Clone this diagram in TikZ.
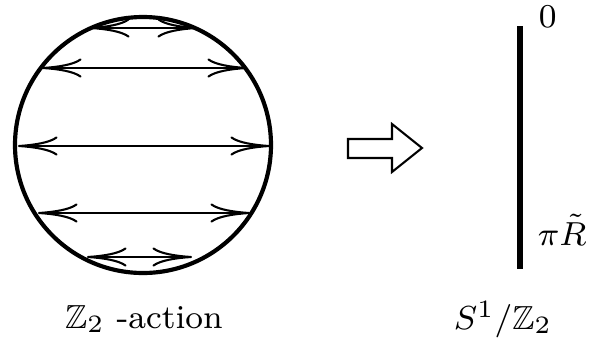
\documentclass[tikz,border=0pt]{standalone}
\usepackage{amsmath, amssymb}
\usetikzlibrary{arrows.meta}

\begin{document}
\begin{tikzpicture}[x=0.24pt, y=-0.24pt, font=\footnotesize,
    flip/.style={line width=0.5pt, {To[length=9.5pt,width=4.6pt]}-{To[length=9.5pt,width=4.6pt]}}]
    \useasboundingbox (0,0) rectangle (589,350);

    % --- The disk with its Z2 identifications ---
    \draw[line width=1pt] (143,145) circle (128);
    \draw[flip] (90,28) -- (197,28);
    \draw[flip] (42,68) -- (247,68);
    \draw[flip] (18,146) -- (270,146);
    \draw[flip] (38,213) -- (250,213);
    \draw[flip] (87,257) -- (192,257);
    \node[anchor=base, inner sep=0] (action) at (144,328) {$\mathbb{Z}_2$ -action};

    % --- Block arrow ---
    \draw[line width=0.5pt]
        (348,139)
        -- (392,139)
        -- (392,124)
        -- (422,148)
        -- (392,172)
        -- (392,158)
        -- (348,158)
        -- cycle;

    % --- The orbifold interval ---
    \coordinate (top) at (520,26);
    \coordinate (bot) at (520,269);
    \draw[line width=1.45pt] (top) -- (bot);
    \node[anchor=base west, inner sep=0] (zero) at (538,27) {$0$};
    \node[anchor=base west, inner sep=0] (piR) at (537,245) {$\pi\tilde{R}$};
    \node[anchor=base, inner sep=0] (orbi) at (503,329) {$S^1/\mathbb{Z}_2$};

\end{tikzpicture}
\end{document}
